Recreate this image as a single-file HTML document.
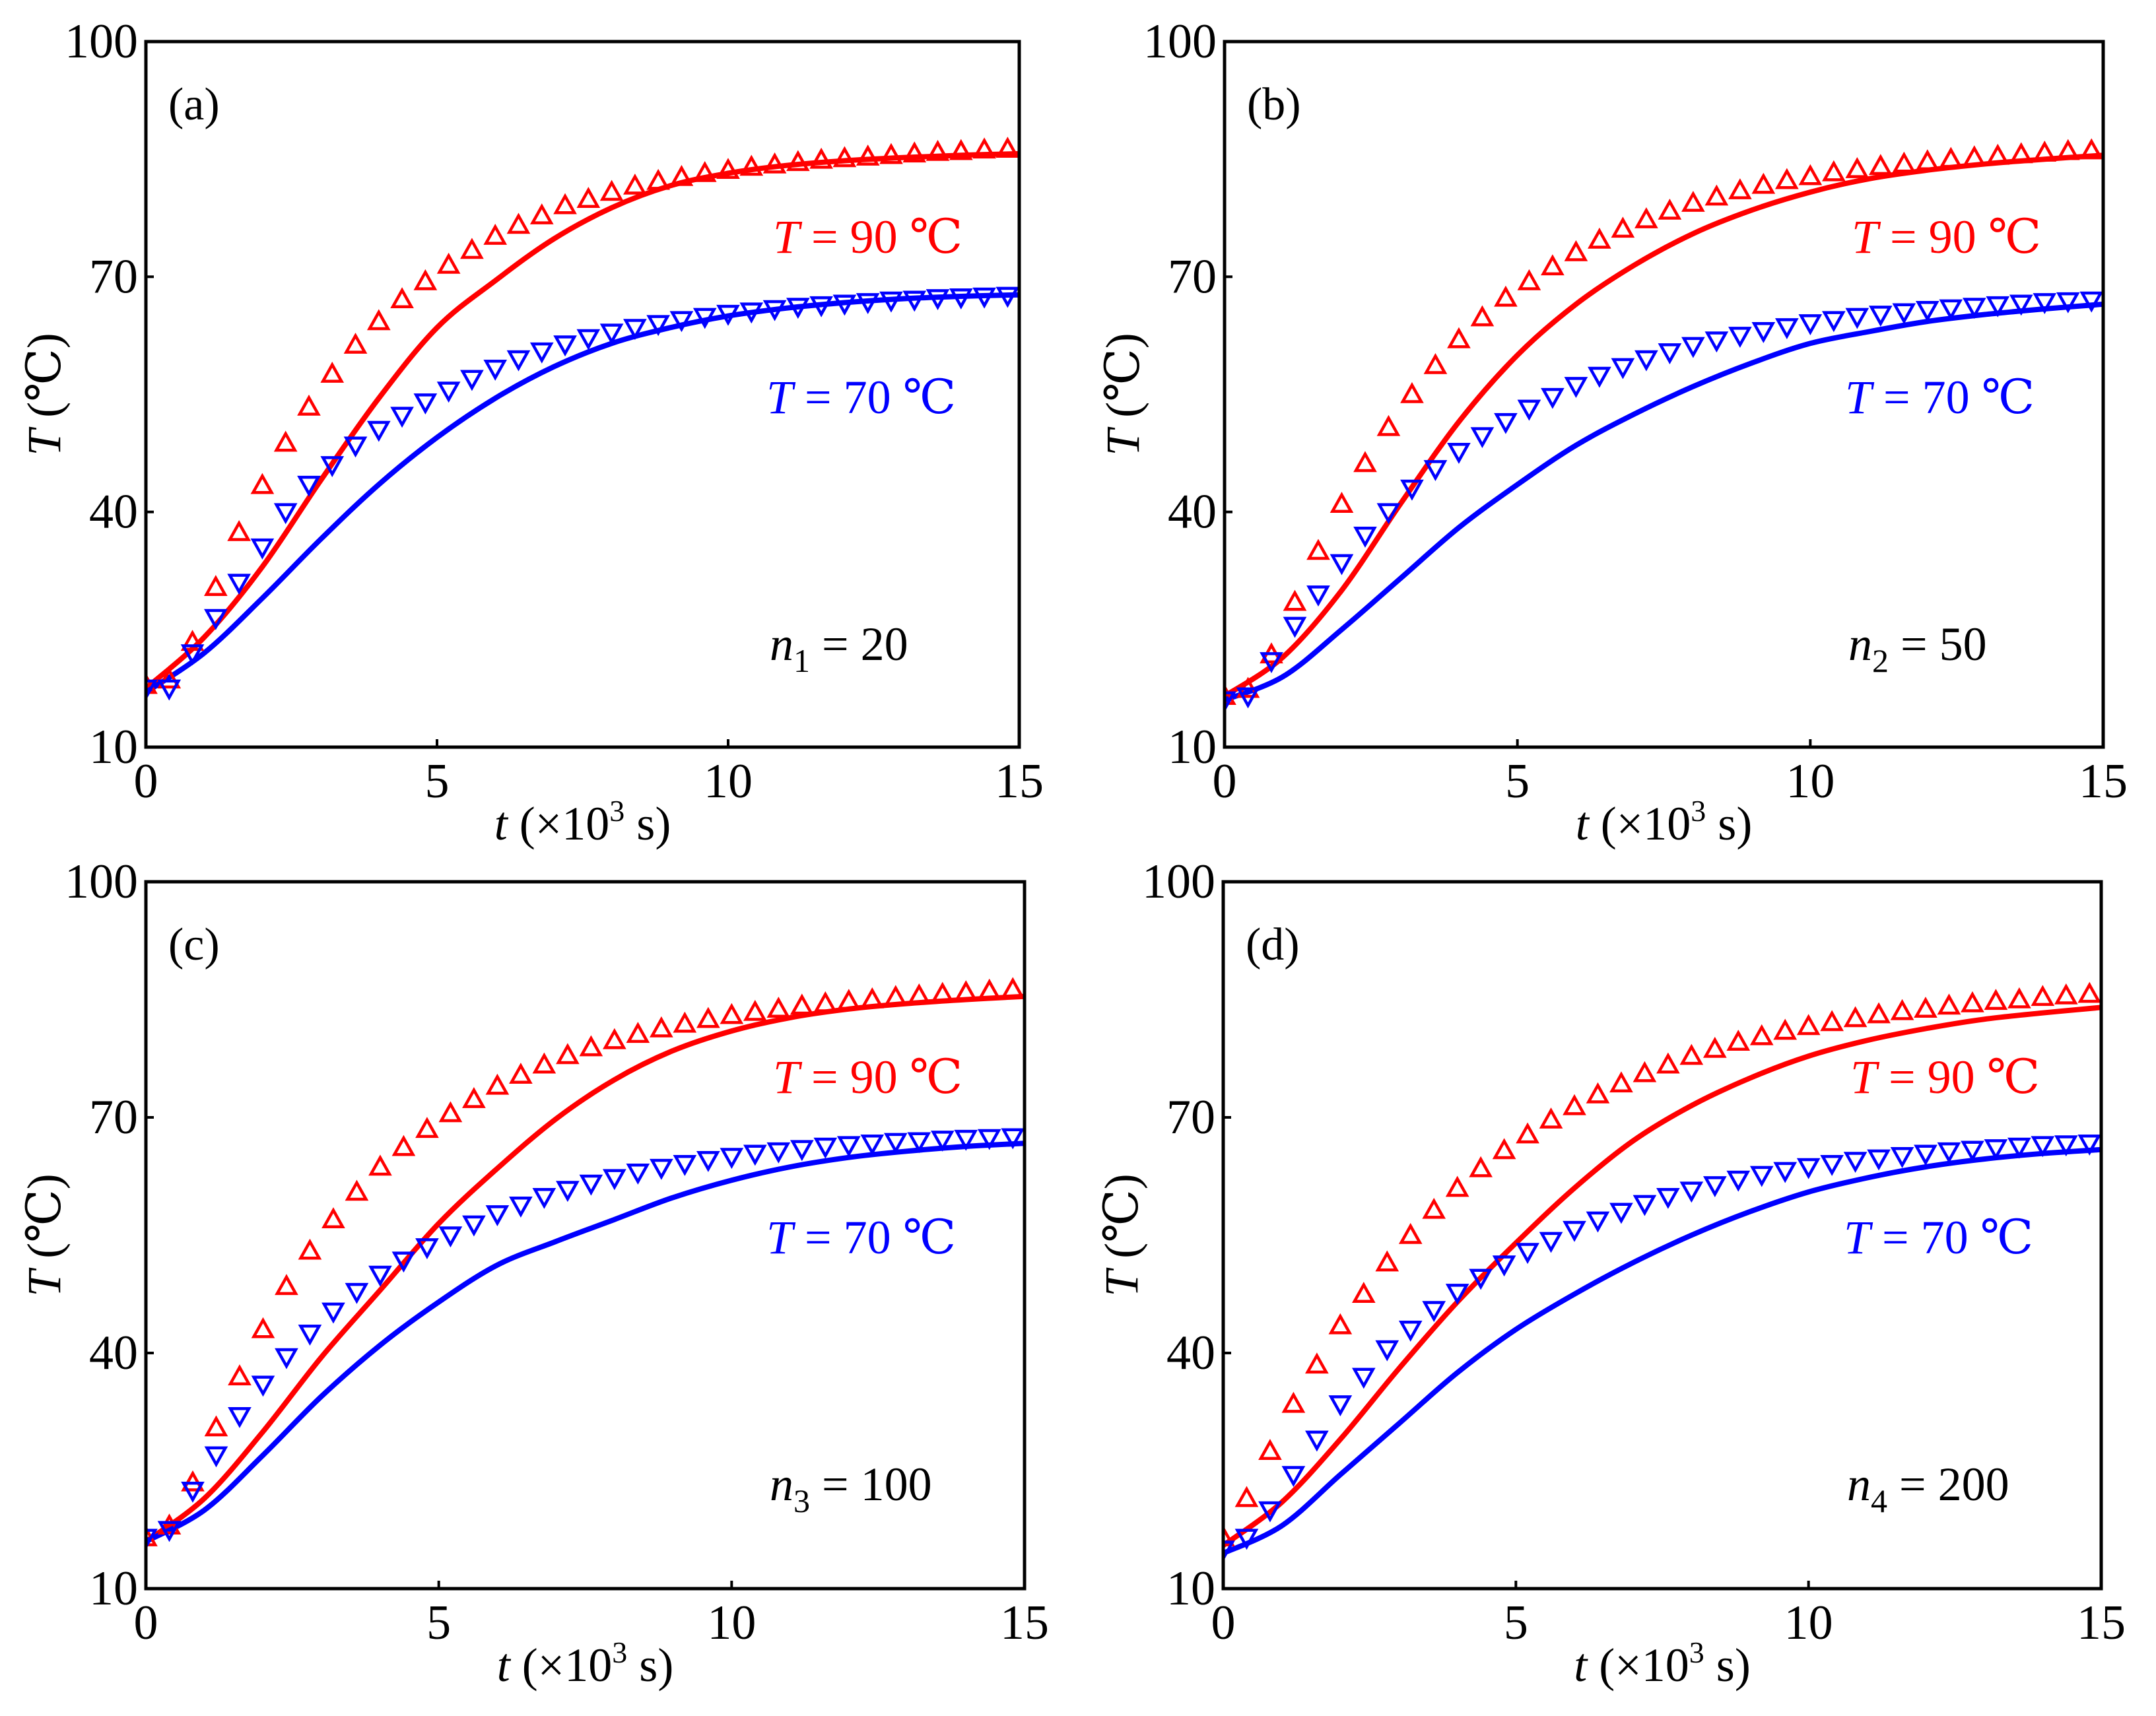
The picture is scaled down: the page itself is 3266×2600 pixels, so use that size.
<!DOCTYPE html>
<html>
<head>
<meta charset="utf-8">
<style>
html,body{margin:0;padding:0;background:#fff;}
svg{display:block;}
text{font-family:"Liberation Serif","DejaVu Serif",serif;}
</style>
</head>
<body>
<svg id="chart" width="3266" height="2600" viewBox="0 0 3266 2600" xmlns="http://www.w3.org/2000/svg"></svg>
<script>
// marker times (x10^3 s)
const markerTimes = [0,0.4,0.8,1.2,1.6,2.0,2.4,2.8,3.2,3.6,4.0,4.4,4.8,5.2,5.6,6.0,6.4,6.8,7.2,7.6,8.0,8.4,8.8,9.2,9.6,10,10.4,10.8,11.2,11.6,12,12.4,12.8,13.2,13.6,14,14.4,14.8];
// line times
const lineTimes = [0,1,2,3,4,5,6,7,8,9,10,11,12,13,14,15];
const xTicks = [0,5,10,15];
const yTicks = [10,40,70,100];
const panelLabels = ["(a)","(b)","(c)","(d)"];
const nLabels = [["1","20"],["2","50"],["3","100"],["4","200"]];

// panel (a)
const aRedMarkers = [17.9,18.6,23.4,30.4,37.4,43.4,48.8,53.4,57.6,61.3,64.3,67.1,69.4,71.5,73.4,75.2,76.6,77.8,79.1,79.9,80.8,81.6,82.2,82.7,83.2,83.6,84.0,84.3,84.6,84.9,85.1,85.3,85.5,85.7,85.9,86.0,86.2,86.3];
const aRedLine = [17.5,24,33,44,54.5,63.5,69.5,74.8,78.8,81.6,83.2,84.2,84.8,85.2,85.5,85.7];
const aBlueMarkers = [17.5,17.5,22,26.5,31,35.5,40,43.5,46,48.5,50.5,52.3,54,55.5,57,58.3,59.5,60.5,61.4,62.2,62.9,63.5,64,64.5,64.9,65.3,65.6,65.9,66.2,66.4,66.6,66.8,67,67.1,67.3,67.4,67.5,67.6];
const aBlueLine = [17,22,29,36.5,43.5,49.5,54.5,58.5,61.5,63.5,65,66,66.7,67.2,67.5,67.7];
// panel (b)
const bRedMarkers = [16.5,17.4,21.8,28.5,35,41,46.2,50.8,55,58.7,62,64.8,67.3,69.4,71.3,73.1,74.7,76.1,77.3,78.4,79.4,80.2,81,81.7,82.3,82.8,83.3,83.7,84.1,84.4,84.7,85,85.2,85.4,85.6,85.8,86,86.1];
const bRedLine = [16.5,21.5,30,41,51.5,60,66.5,71.5,75.5,78.5,80.8,82.5,83.6,84.4,85,85.5];
const bBlueMarkers = [16,16.5,21,25.5,29.5,33.5,37,40,43,45.5,47.7,49.7,51.5,53.2,54.7,56.1,57.4,58.5,59.5,60.4,61.2,61.9,62.5,63.1,63.6,64.1,64.5,64.9,65.2,65.5,65.8,66,66.2,66.4,66.6,66.8,66.9,67];
const bBlueLine = [16,19,25,31.5,38,43.5,48.5,52.5,56,59,61.5,63,64.3,65.2,65.9,66.5];
// panel (c)
const cRedMarkers = [16.5,18,23.5,30.5,37,43,48.5,53,57,60.5,63.7,66.2,68.5,70.5,72.3,74,75.4,76.7,77.9,78.9,79.8,80.6,81.3,81.9,82.5,83,83.4,83.8,84.2,84.5,84.8,85,85.3,85.5,85.7,85.9,86.1,86.3];
const cRedLine = [16,21.5,30,39.5,48,56.5,63.5,69.8,74.8,78.5,81,82.7,83.8,84.5,85,85.4];
const cBlueMarkers = [16.5,17.5,22.5,27,32,36,39.5,42.5,45.3,47.8,50,51.8,53.5,55,56.4,57.7,58.8,59.9,60.8,61.6,62.3,63,63.6,64.1,64.6,65,65.4,65.7,66,66.3,66.5,66.7,66.9,67,67.2,67.3,67.4,67.5];
const cBlueLine = [16,20,27,34.5,41,46.5,51.2,54.2,57,59.8,62,63.7,64.9,65.7,66.3,66.7];
// panel (d)
const dRedMarkers = [16.5,21.5,27.5,33.5,38.5,43.5,47.5,51.5,55,58.2,61,63.5,65.8,67.8,69.7,71.4,72.9,74.3,75.6,76.7,77.8,78.7,79.6,80.3,81,81.6,82.1,82.6,83.1,83.5,83.8,84.2,84.5,84.8,85,85.3,85.5,85.7];
const dRedLine = [15.5,21,29,38,46.5,54,61,67,71.5,75,77.8,79.8,81.3,82.5,83.3,84];
const dBlueMarkers = [15,16.5,20,24.5,29,33.5,37,40.5,43,45.5,47.7,49.6,51.3,52.9,54.3,55.7,56.9,58,59,59.9,60.7,61.4,62.1,62.7,63.2,63.7,64.1,64.5,64.8,65.1,65.4,65.7,65.9,66.1,66.3,66.5,66.6,66.7];
const dBlueLine = [14.5,18,24.5,31,37.5,43,47.5,51.5,55,58,60.5,62.3,63.7,64.7,65.4,65.9];

const panelsData = [
  [aRedMarkers,aRedLine,aBlueMarkers,aBlueLine],
  [bRedMarkers,bRedLine,bBlueMarkers,bBlueLine],
  [cRedMarkers,cRedLine,cBlueMarkers,cBlueLine],
  [dRedMarkers,dRedLine,dBlueMarkers,dBlueLine]
];
const boxes = [
  {l:221,r:1544,t:63,b:1132},
  {l:1855,r:3186,t:63,b:1132},
  {l:221,r:1552,t:1336,b:2407},
  {l:1853,r:3183,t:1336,b:2407}
];

const NS="http://www.w3.org/2000/svg";
const svg=document.getElementById('chart');
function mk(tag,attrs,parent){const e=document.createElementNS(NS,tag);for(const k in attrs)e.setAttribute(k,attrs[k]);(parent||svg).appendChild(e);return e;}

function smoothPath(pts){
  let d="M"+pts[0][0].toFixed(1)+","+pts[0][1].toFixed(1);
  for(let i=0;i<pts.length-1;i++){
    const p0=pts[i-1]||pts[i],p1=pts[i],p2=pts[i+1],p3=pts[i+2]||pts[i+1];
    const c1x=p1[0]+(p2[0]-p0[0])/6,c1y=p1[1]+(p2[1]-p0[1])/6;
    const c2x=p2[0]-(p3[0]-p1[0])/6,c2y=p2[1]-(p3[1]-p1[1])/6;
    d+=" C"+c1x.toFixed(1)+","+c1y.toFixed(1)+" "+c2x.toFixed(1)+","+c2y.toFixed(1)+" "+p2[0].toFixed(1)+","+p2[1].toFixed(1);
  }
  return d;
}

boxes.forEach((bx,pi)=>{
  const g=mk('g',{});
  
  
  const xS=v=>bx.l+(v/15)*(bx.r-bx.l);
  const yS=v=>bx.b-((v-10)/90)*(bx.b-bx.t);
  const [rm,rl,bm,bl]=panelsData[pi];

  const cp=mk('clipPath',{id:'clip'+pi},g);
  mk('rect',{x:bx.l,y:bx.t,width:bx.r-bx.l,height:bx.b-bx.t},cp);
  const plot=mk('g',{'clip-path':'url(#clip'+pi+')'},g);

  const redLine=mk('path',{d:smoothPath(lineTimes.map((t,i)=>[xS(t),yS(rl[i])])),fill:'none',stroke:'#ff0000','stroke-width':8},plot);
  
  
  const blueLine=mk('path',{d:smoothPath(lineTimes.map((t,i)=>[xS(t),yS(bl[i])])),fill:'none',stroke:'#0000ff','stroke-width':8},plot);
  
  

  markerTimes.forEach((t,i)=>{
    const x=xS(t),y=yS(rm[i]);
    const m=mk('polygon',{points:`${x-14},${y+11} ${x+14},${y+11} ${x},${y-14}`,fill:'none',stroke:'#ff0000','stroke-width':4.5},plot);
    
    
  });
  markerTimes.forEach((t,i)=>{
    const x=xS(t),y=yS(bm[i]);
    const m=mk('polygon',{points:`${x-14},${y-11} ${x+14},${y-11} ${x},${y+14}`,fill:'none',stroke:'#0000ff','stroke-width':4.5},plot);
    
    
  });

  const fr=mk('rect',{x:bx.l,y:bx.t,width:bx.r-bx.l,height:bx.b-bx.t,fill:'none',stroke:'#000','stroke-width':5},g);
  
  

  xTicks.forEach(v=>{
    const x=xS(v);
    mk('line',{x1:x,x2:x,y1:bx.b,y2:bx.b-12,stroke:'#000','stroke-width':4},g);
    const tl=mk('text',{x:x,y:bx.b+76,'font-size':74,'text-anchor':'middle',fill:'#000'},g);
    tl.textContent=v;
    
    
  });
  yTicks.forEach(v=>{
    const y=yS(v);
    mk('line',{x1:bx.l,x2:bx.l+12,y1:y,y2:y,stroke:'#000','stroke-width':4},g);
    const tl=mk('text',{x:bx.l-12,y:y+24,'font-size':74,'text-anchor':'end',fill:'#000'},g);
    tl.textContent=v;
    
    
  });

  const xt=mk('text',{x:(bx.l+bx.r)/2,y:bx.b+140,'font-size':72,'text-anchor':'middle',fill:'#000'},g);
  xt.innerHTML='<tspan font-style="italic">t</tspan> (×10<tspan dy="-28" font-size="46">3</tspan><tspan dy="28"> s)</tspan>';
  
  
  const cy=(bx.t+bx.b)/2;
  const yt=mk('text',{x:0,y:0,'font-size':72,'text-anchor':'middle',fill:'#000',transform:`translate(${bx.l-130},${cy}) rotate(-90)`},g);
  yt.innerHTML='<tspan font-style="italic">T</tspan> (℃)';
  
  

  const pl=mk('text',{x:bx.l+34,y:bx.t+118,'font-size':70,fill:'#000'},g);
  pl.textContent=panelLabels[pi];
  
  

  const l90=mk('text',{x:bx.l+950,y:bx.t+320,'font-size':72,fill:'#ff0000'},g);
  l90.innerHTML='<tspan font-style="italic">T</tspan> = 90 ℃';
  
  
  const l70=mk('text',{x:bx.l+940,y:bx.t+563,'font-size':72,fill:'#0000ff'},g);
  l70.innerHTML='<tspan font-style="italic">T</tspan> = 70 ℃';
  
  
  const nl=mk('text',{x:bx.l+945,y:bx.t+937,'font-size':72,fill:'#000'},g);
  nl.innerHTML='<tspan font-style="italic">n</tspan><tspan dy="18" font-size="50">'+nLabels[pi][0]+'</tspan><tspan dy="-18"> = '+nLabels[pi][1]+'</tspan>';
  
  
});
</script>
</body>
</html>
